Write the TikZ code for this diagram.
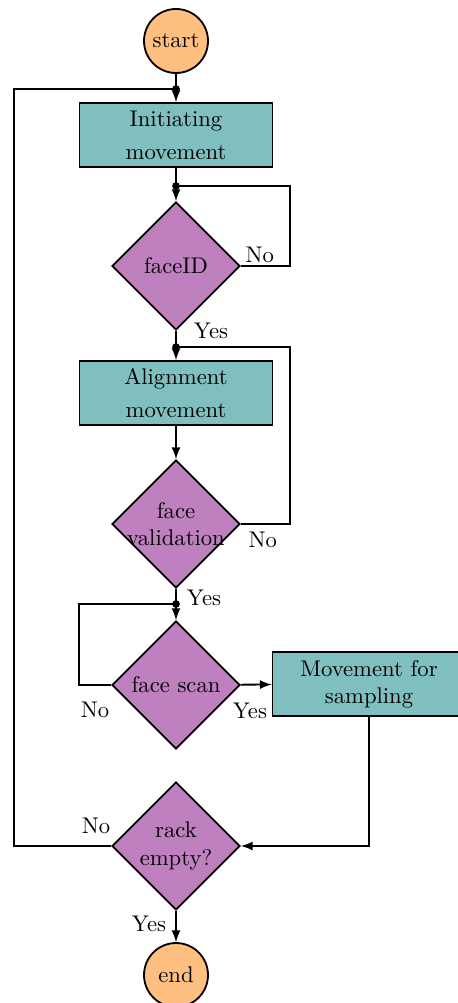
\documentclass[tikz,border=0pt]{standalone}
\usepackage{amsmath}
\usepackage{tikz}
\usetikzlibrary{arrows, shapes, positioning}

\tikzset{
  terminal/.style={circle, draw, thick, fill=orange!50, minimum size=0.992cm, inner sep=0pt},
  process/.style={rectangle, draw, thick, fill=teal!50, minimum width=2.99cm, minimum height=0.992cm, align=center, inner sep=0pt},
  decision/.style={diamond, draw, thick, fill=violet!50, minimum size=1.984cm, inner sep=-0.15cm, align=center},
  junction/.style={circle, fill, inner sep=0pt, minimum size=3.4pt},
  line/.style={draw, thick},
  arrow/.style={draw, thick, -latex},
  lbl/.style={inner sep=0pt}
}

\begin{document}
\begin{tikzpicture}[x=0.0155cm, y=-0.0155cm]

\useasboundingbox (0,0) rectangle (457,1003);

% nodes
\node[terminal] (start) at (176,41) {start};
\node[process] (init) at (176,135) {Initiating\\[2.5pt]movement};
\node[decision] (faceid) at (176,266) {faceID};
\node[process] (align) at (176,393) {Alignment\\[2.5pt]movement};
\node[decision] (valid) at (176,524) {face\\validation};
\node[decision] (scan) at (176,685) {face scan};
\node[process] (move) at (369,684) {Movement for\\sampling};
\node[decision] (rack) at (176,846) {rack\\empty?};
\node[terminal] (end) at (176,975) {end};

% main flow
\draw[line] (start) -- (176,89) coordinate (j1);
\draw[arrow] (j1) -- (init);
\draw[line] (init) -- (176,186) coordinate (j2);
\draw[arrow] (j2) -- (faceid);
\draw[line] (faceid) -- (176,347) coordinate (j3);
\draw[arrow] (j3) -- (align);
\draw[arrow] (align) -- (valid);
\draw[line] (valid) -- (176,604) coordinate (j4);
\draw[arrow] (j4) -- (scan);
\draw[arrow] (scan) -- (move);
\draw[arrow] (move.south) |- (rack.east);
\draw[arrow] (rack) -- (end);

% loops back
\draw[line] (faceid.east) -- ++(49,0) |- (j2);
\draw[line] (valid.east) -- ++(49,0) |- (j3);
\draw[line] (scan.west) -- ++(-32,0) |- (j4);
\draw[line] (rack.west) -- ++(-97,0) |- (j1);

% junction dots
\foreach \j in {j1,j2,j3,j4}
  \node[junction] at (\j) {};

% labels
\node[lbl] (no1) at ([shift={(19,-11)}]faceid.east) {No};
\node[lbl] (yes1) at ([shift={(35,0)}]faceid.south) {Yes};
\node[lbl] (no2) at ([shift={(22,16)}]valid.east) {No};
\node[lbl] (yes2) at ([shift={(28,9)}]valid.south) {Yes};
\node[lbl] (no3) at ([shift={(-16,25)}]scan.west) {No};
\node[lbl] (yes3) at ([shift={(9,26)}]scan.east) {Yes};
\node[lbl] (no4) at ([shift={(-15,-20)}]rack.west) {No};
\node[lbl] (yes4) at ([shift={(-27,13)}]rack.south) {Yes};

\end{tikzpicture}
\end{document}
